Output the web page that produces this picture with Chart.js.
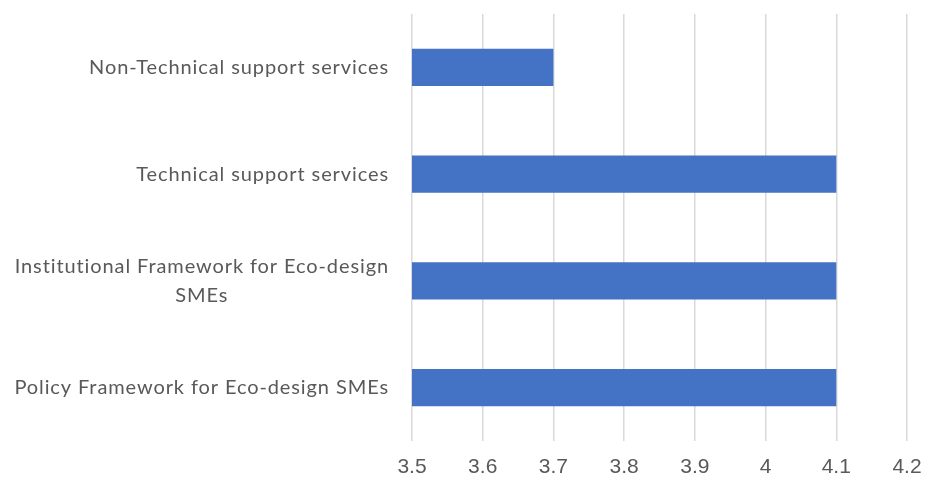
<!DOCTYPE html>
<html>
<head>
<meta charset="utf-8">
<script src="https://cdn.jsdelivr.net/npm/chart.js@4.4.0/dist/chart.umd.min.js"></script>
<style>
  html, body { margin: 0; padding: 0; background: #fff; }
  #wrap { width: 928px; height: 481px; }
</style>
</head>
<body>
<div id="wrap"><canvas id="chart"></canvas></div>
<script>
// categories, top to bottom (multi-line labels as arrays)
const categories = [
    ['Non-Technical support services'],
    ['Technical support services'],
    ['Institutional Framework for Eco-design', 'SMEs'],
    ['Policy Framework for Eco-design SMEs']
]
const scores = [3.7, 4.1, 4.1, 4.1]
const xMin = 3.5
const xMax = 4.2
const xStep = 0.1

// draws the category labels Excel-style: block right aligned, lines centred in the block
const catLabels = {
    id: 'catLabels',
    afterDraw(chart) {
        const ctx = chart.ctx
        const y = chart.scales.y
        ctx.save()
        ctx.font = '20px Lato'
        ctx.letterSpacing = '0.9px'
        ctx.fillStyle = '#595959'
        ctx.textAlign = 'center'
        ctx.textBaseline = 'middle'
        const right = chart.chartArea.left - 23
        const lineH = 29
        categories.forEach((lines, i) => {
            const w = Math.max(...lines.map(l => ctx.measureText(l).width))
            const cx = right - w / 2
            const cy = y.getPixelForValue(i) - (lines.length - 1) * lineH / 2
            lines.forEach((l, k) => ctx.fillText(l, cx, cy + k * lineH))
        })
        ctx.restore()
    }
}

var context = document.getElementById('chart').getContext('2d');
new Chart(context, {
    type: 'bar',
    data: {
        labels: categories.map(c => c.join(' ')),
        datasets: [{
            data: scores,
            backgroundColor: '#4472C4',
            borderWidth: 0,
            barPercentage: 0.35,
            categoryPercentage: 1
        }]
    },
    options: {
        indexAxis: 'y',
        responsive: true,
        maintainAspectRatio: false,
        animation: false,
        layout: { padding: { left: 412, right: 21, top: 14, bottom: 0 } },
        plugins: { legend: { display: false }, tooltip: { enabled: false } },
        scales: {
            x: {
                min: xMin,
                max: xMax,
                afterFit: s => { s.height = 40; s.paddingRight = 0; s.paddingLeft = 0 },
                ticks: {
                    stepSize: xStep,
                    color: '#595959',
                    font: { family: 'Liberation Sans', size: 21 },
                    padding: 14,
                    callback: v => Math.round(v * 10) / 10
                },
                grid: { color: '#d9d9d9', lineWidth: 1.5, drawTicks: false },
                border: { display: false }
            },
            y: {
                display: false
            }
        }
    },
    plugins: [catLabels]
});
</script>
</body>
</html>
